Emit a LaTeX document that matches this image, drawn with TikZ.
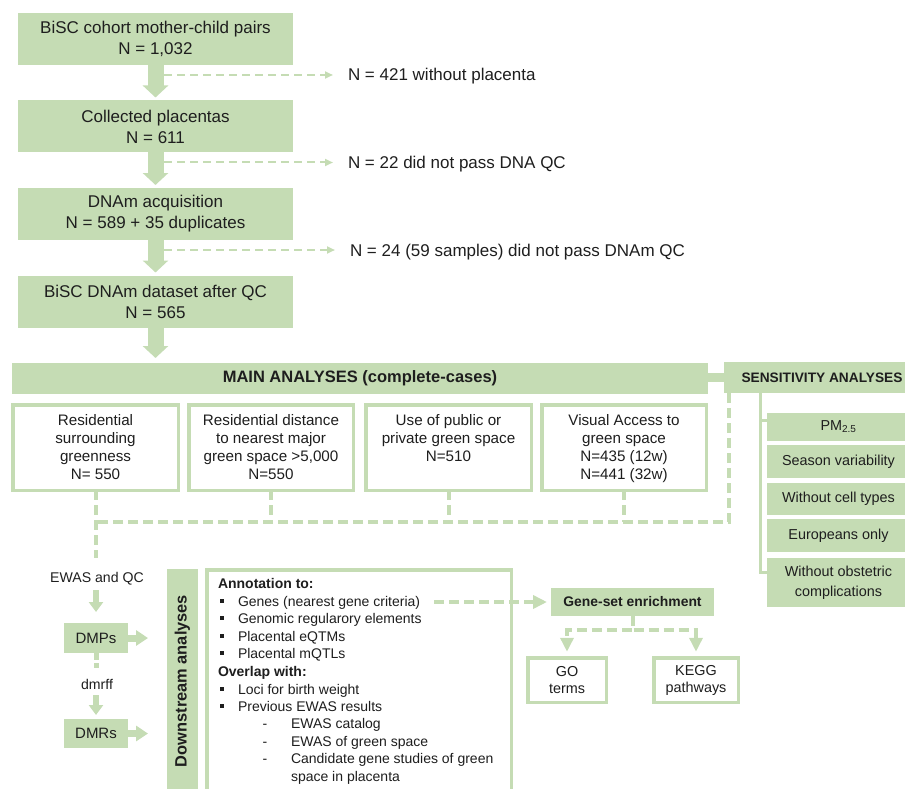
\documentclass[tikz,border=0pt]{standalone}
\usepackage{fontspec}
\setmainfont{Liberation Sans}
\usetikzlibrary{arrows.meta,calc}
\definecolor{gfill}{HTML}{C5DCB4}
\definecolor{txt}{HTML}{1E1E1E}
\begin{document}
\begin{tikzpicture}[x=1pt,y=-1pt,
  every node/.style={inner sep=0pt, outer sep=0pt, text=txt},
  fbox/.style={fill=gfill, align=center},
  wbox/.style={draw=gfill, line width=3.5pt, fill=white},
  topbox/.style={fbox, minimum width=275pt, minimum height=52pt, font=\fontsize{17}{21}\selectfont},
  sidetxt/.style={anchor=base west, font=\fontsize{17}{21}\selectfont},
  wtxt/.style={anchor=north, align=center, font=\fontsize{15.2}{18.3}\selectfont},
  sbox/.style={fbox, minimum width=143pt, font=\fontsize{14.4}{20}\selectfont},
  ltxt/.style={anchor=base west, font=\fontsize{14}{17}\selectfont},
  bul/.style={fill=txt, minimum size=4.5pt},
  dsh/.style={anchor=base, font=\fontsize{14}{17}\selectfont},
  bigarrow/.style={draw=gfill, line width=16pt, -{Triangle[length=12pt,width=25pt]}},
  thindash/.style={draw=gfill, line width=2pt, dash pattern=on 8pt off 5pt, -{Triangle[length=8pt,width=7pt]}},
  thickdash/.style={draw=gfill, line width=4pt, dash pattern=on 10pt off 5pt},
  dashtip/.style={-{Triangle[length=14pt,width=13pt]}},
  smallarrow/.style={draw=gfill, line width=6pt, -{Triangle[length=10pt,width=14pt]}},
  sidearrow/.style={draw=gfill, line width=7pt, -{Triangle[length=12pt,width=15pt]}},
  sline/.style={draw=gfill, line width=3pt},
  band/.style={draw=gfill, line width=9pt}
]
\useasboundingbox (0,0) rectangle (905,789);
\clip (0,0) rectangle (905,789);

% top flow
\node[topbox] (b1) at (155.5,39) {BiSC cohort mother-child pairs\\N = 1,032};
\node[topbox] (b2) at (155.5,126.5) {Collected placentas\\N = 611};
\node[topbox] (b3) at (155.5,214) {DNAm acquisition\\N = 589 + 35 duplicates};
\node[topbox] (b4) at (155.5,301.5) {BiSC DNAm dataset after QC\\N = 565};

\node[sidetxt] (n1) at (348,81) {N = 421 without placenta};
\node[sidetxt] (n2) at (348,168.5) {N = 22 did not pass DNA QC};
\node[sidetxt] (n3) at (350,256) {N = 24 (59 samples) did not pass DNAm QC};

\draw[bigarrow] (b1.south) -- ([yshift=3pt]b2.north);
\draw[bigarrow] (b2.south) -- ([yshift=3pt]b3.north);
\draw[bigarrow] (b3.south) -- ([yshift=3pt]b4.north);

\coordinate (s1) at ($(b1.south)+(8.5,10)$);
\coordinate (s2) at ($(b2.south)+(8.5,10)$);
\coordinate (s3) at ($(b3.south)+(8.5,10)$);
\draw[thindash, shorten >=15pt] (s1) -- (s1 -| n1.west);
\draw[thindash, shorten >=15pt] (s2) -- (s2 -| n2.west);
\draw[thindash, shorten >=15pt] (s3) -- (s3 -| n3.west);

% main analyses
\node[fbox, minimum width=696pt, minimum height=31pt, font=\fontsize{16.5}{20}\bfseries] (main) at (360,378.5) {MAIN ANALYSES (complete-cases)};
\node[fbox, minimum width=196pt, minimum height=31pt, font=\fontsize{13.7}{16}\bfseries] (sens) at (822,377.5) {SENSITIVITY ANALYSES};
\draw[band] (sens.west) -- (sens.west -| main.east);
\draw[bigarrow, shorten >=5pt] (b4.south) -- (b4.south |- main.north);

% four exposure boxes
\node[wbox, minimum width=165.5pt, minimum height=85.5pt] (A) at (95.5,447.5) {};
\node[wbox, minimum width=164.5pt, minimum height=85.5pt] (B) at (271,447.5) {};
\node[wbox, minimum width=165.5pt, minimum height=85.5pt] (C) at (448.5,447.5) {};
\node[wbox, minimum width=164.5pt, minimum height=85.5pt] (D) at (624,447.5) {};
\node[wtxt] (At) at (95.5,414) {Residential\\surrounding\\greenness\\N= 550};
\node[wtxt] (Bt) at (271,414) {Residential distance\\to nearest major\\green space >5,000\\N=550};
\node[wtxt] (Ct) at (448.5,414) {Use of public or\\private green space\\N=510};
\node[wtxt] (Dt) at (624,414) {Visual Access to\\green space\\N=435 (12w)\\N=441 (32w)};

% dashed collectors
\coordinate (hl) at (0,522);
\coordinate (sdrop) at ($(sens.south west)+(5,0)$);
\draw[thickdash] (sdrop) |- (A.south |- hl);
\draw[thickdash] (B.south) -- (B.south |- hl);
\draw[thickdash] (C.south) -- (C.south |- hl);
\draw[thickdash] (D.south) -- (D.south |- hl);
\draw[thickdash] (A.south) -- ++(0,68);

% sensitivity list
\node[sbox, minimum height=28pt] (pm) at (838.5,427) {PM\textsubscript{2.5}};
\node[sbox, minimum height=33pt] (season) at (838.5,461.5) {Season variability};
\node[sbox, minimum height=32pt] (cell) at (838.5,499) {Without cell types};
\node[sbox, minimum height=33pt] (euro) at (838.5,535.5) {Europeans only};
\node[sbox, minimum height=49pt, align=center] (obst) at (838.5,582.5) {Without obstetric\\complications};
\coordinate (sv) at ($(sens.south west)+(36,0)$);
\draw[sline] (sv) |- ([yshift=-14pt]obst.north west);
\draw[sline] (sv) |- ([yshift=-7pt]pm.north west);

% left bottom chain
\node[font=\fontsize{14.1}{17}\selectfont] (ewas) at (97,579) {EWAS and QC};
\node[fbox, minimum width=64pt, minimum height=30pt, font=\fontsize{15}{18}\selectfont] (dmps) at (96,638) {DMPs};
\node[font=\fontsize{14.1}{17}\selectfont] (dmrff) at (97,684) {dmrff};
\node[fbox, minimum width=64pt, minimum height=29pt, font=\fontsize{15}{18}\selectfont] (dmrs) at (96,733.5) {DMRs};
\draw[smallarrow, shorten <=5pt, shorten >=11pt] (dmps.north |- ewas.south) -- (dmps.north);
\draw[smallarrow, shorten <=6pt, shorten >=4pt] (dmrs.north |- dmrff.south) -- (dmrs.north);
\draw[draw=gfill, line width=5pt, dash pattern=on 7pt off 3pt] (dmps.south) -- ++(0,15);

% downstream bar
\node[fill=gfill, minimum width=31pt, minimum height=231pt] (dsbar) at (182.5,684.5) {};
\node[rotate=90, font=\fontsize{16.4}{20}\bfseries] (dstxt) at (182.5,681) {Downstream analyses};
\draw[sidearrow, shorten >=19pt] (dmps.east) -- (dmps.east -| dsbar.west);
\draw[sidearrow, shorten >=19pt] (dmrs.east) -- (dmrs.east -| dsbar.west);

% annotation box
\node[wbox, minimum width=304.5pt, minimum height=240pt] (annot) at (359,689.75) {};
\node[ltxt, font=\fontsize{14}{17}\bfseries] (ann1) at (218,588) {Annotation to:};
\node[bul] (u1) at (222,601) {};
\node[ltxt] (genes) at (238,606) {Genes (nearest gene criteria)};
\node[bul] (u2) at (222,618) {};
\node[ltxt] (genomic) at (238,623) {Genomic regularory elements};
\node[bul] (u3) at (222,636) {};
\node[ltxt] (eqtm) at (238,641) {Placental eQTMs};
\node[bul] (u4) at (222,653) {};
\node[ltxt] (mqtl) at (238,658) {Placental mQTLs};
\node[ltxt, font=\fontsize{14}{17}\bfseries] (ann2) at (218,676) {Overlap with:};
\node[bul] (u5) at (222,689) {};
\node[ltxt] (loci) at (238,694) {Loci for birth weight};
\node[bul] (u6) at (222,706) {};
\node[ltxt] (prev) at (238,711) {Previous EWAS results};
\node[dsh] (d1) at (265,728) {-};
\node[ltxt] (cat) at (291,728) {EWAS catalog};
\node[dsh] (d2) at (265,746) {-};
\node[ltxt] (egs) at (291,746) {EWAS of green space};
\node[dsh] (d3) at (265,763) {-};
\node[ltxt] (cand) at (291,763) {Candidate gene studies of green};
\node[ltxt] (cand2) at (291,781) {space in placenta};

% gene-set enrichment
\node[fbox, minimum width=163pt, minimum height=28pt, font=\fontsize{13.9}{17}\bfseries] (gsea) at (632.5,602) {Gene-set enrichment};
\node[wbox, minimum width=78.5pt, minimum height=44.5pt, align=center, font=\fontsize{14.4}{17}\selectfont] (go) at (567,680) {GO\\terms};
\node[wbox, minimum width=84.5pt, minimum height=44.5pt, align=center, font=\fontsize{14.4}{17}\selectfont] (kegg) at (696,680) {KEGG\\pathways};
\draw[thickdash, dashtip, shorten >=4pt] (gsea.west -| genes.east) ++(14,0) -- (gsea.west);
\draw[thickdash, dashtip, shorten >=4pt] (gsea.south) -- ++(0,14) -| ([yshift=2pt]go.north);
\draw[thickdash, dashtip, shorten >=4pt] (gsea.south) -- ++(0,14) -| ([yshift=2pt]kegg.north);
\end{tikzpicture}
\end{document}
